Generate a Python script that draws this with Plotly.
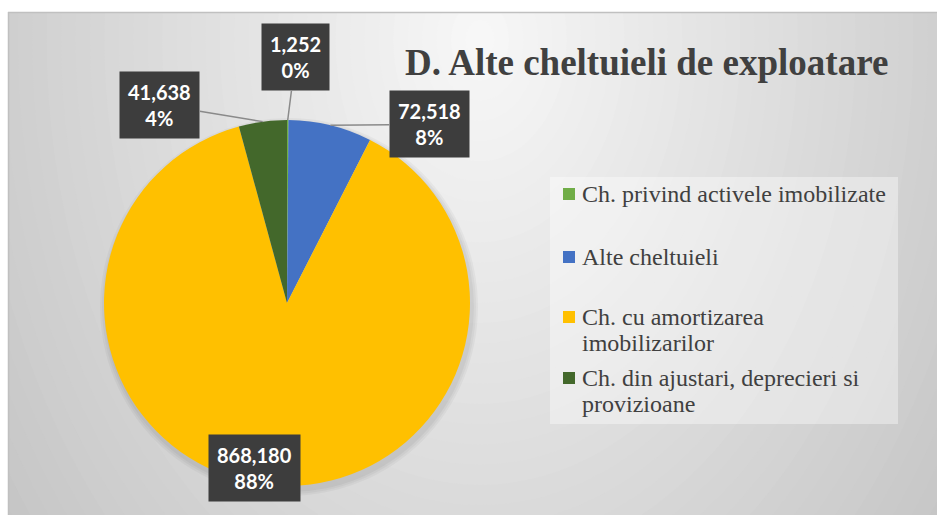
import math
import plotly.graph_objects as go

# ---- data ----
categories = [
    "Ch. privind activele imobilizate",
    "Alte cheltuieli",
    "Ch. cu amortizarea imobilizarilor",
    "Ch. din ajustari, deprecieri si provizioane",
]
values = [1252, 72518, 868180, 41638]
pct_labels = ["0%", "8%", "88%", "4%"]
legend_lines = [
    ["Ch. privind activele imobilizate"],
    ["Alte cheltuieli"],
    ["Ch. cu amortizarea", "imobilizarilor"],
    ["Ch. din ajustari, deprecieri si", "provizioane"],
]
colors = ["#70AD47", "#4472C4", "#FFC000", "#43682B"]
title = "D. Alte cheltuieli de exploatare"

# ---- layout constants (pixels) ----
W, H = 937, 515
CX, CY, R = 287, 303, 183


def px(x):
    return x / W


def py(y):
    return 1 - y / H


fig = go.Figure()
fig.add_trace(go.Pie(
    labels=categories,
    values=values,
    sort=False,
    direction="clockwise",
    rotation=0,
    textinfo="none",
    hoverinfo="label+value+percent",
    marker=dict(colors=colors, line=dict(width=0)),
    domain=dict(x=[px(CX - R), px(CX + R)], y=[py(CY + R), py(CY - R)]),
    showlegend=False,
))

shapes = []
# radial gradient background
rx, ry = 500, 700
gx, gy = 480, 40
N = 45
for k in range(N, -1, -1):
    d = 1.3 * k / N
    c = int(round(248 - 43 * d))
    c = max(0, min(255, c))
    shapes.append(dict(
        type="circle", xref="paper", yref="paper", layer="below",
        x0=px(gx - rx * d), x1=px(gx + rx * d),
        y0=py(gy + ry * d), y1=py(gy - ry * d),
        fillcolor=f"rgb({c},{c},{c})", line=dict(width=0),
    ))
# white strips outside the chart area
shapes.append(dict(type="rect", xref="paper", yref="paper", layer="below",
                   x0=-0.01, x1=1.01, y0=py(12), y1=1.01,
                   fillcolor="white", line=dict(width=0)))
shapes.append(dict(type="rect", xref="paper", yref="paper", layer="below",
                   x0=-0.01, x1=px(8), y0=-0.01, y1=1.01,
                   fillcolor="white", line=dict(width=0)))
# chart border
shapes.append(dict(type="line", xref="paper", yref="paper", layer="below",
                   x0=px(8), x1=1.01, y0=py(12.5), y1=py(12.5),
                   line=dict(color="#c0c0c0", width=1.5)))
shapes.append(dict(type="line", xref="paper", yref="paper", layer="below",
                   x0=px(8.5), x1=px(8.5), y0=-0.01, y1=py(12),
                   line=dict(color="#c0c0c0", width=1.5)))
# soft pie shadow
for i, a in enumerate([0.035, 0.035, 0.04]):
    e = 6 - 2 * i
    shapes.append(dict(type="circle", xref="paper", yref="paper", layer="below",
                       x0=px(CX - R - e + 2), x1=px(CX + R + e + 2),
                       y0=py(CY + R + e + 4), y1=py(CY - R - e + 4),
                       fillcolor=f"rgba(0,0,0,{a})", line=dict(width=0)))
# legend box
shapes.append(dict(type="rect", xref="paper", yref="paper", layer="below",
                   x0=px(550), x1=px(898), y0=py(424), y1=py(177),
                   fillcolor="rgba(255,255,255,0.38)", line=dict(width=0)))

annotations = []
# title
annotations.append(dict(
    x=px(646), y=py(63), xref="paper", yref="paper", showarrow=False,
    text=f"<b>{title}</b>", xanchor="center", yanchor="middle",
    font=dict(family="Liberation Serif", size=37, color="#404040"),
))

# manual legend
legend_y = [194, 257, 317, 378]
for i, lines in enumerate(legend_lines):
    yc = legend_y[i]
    shapes.append(dict(type="rect", xref="paper", yref="paper",
                       x0=px(563), x1=px(575), y0=py(yc + 6), y1=py(yc - 6),
                       fillcolor=colors[i], line=dict(width=0)))
    for j, ln in enumerate(lines):
        annotations.append(dict(
            x=px(580), y=py(yc + 25.5 * j), xref="paper", yref="paper",
            showarrow=False, text=ln, xanchor="left", yanchor="middle",
            font=dict(family="Liberation Serif", size=24, color="#404040"),
        ))

# data labels positioned relative to each slice's mid-angle on the rim
total = sum(values)
label_offsets = [(8, -63, True), (99, -1, True), (-14, -17, False), (-103, -17, True)]
cum = 0
for i, v in enumerate(values):
    mid = (cum + v / 2) / total * 2 * math.pi
    cum += v
    ax_px = CX + R * math.sin(mid)
    ay_px = CY - R * math.cos(mid)
    dx, dy, leader = label_offsets[i]
    txt = f"<b>{v:,}<br>{pct_labels[i]}</b>"
    common = dict(
        xref="paper", yref="paper", text=txt,
        font=dict(family="Lato", size=20, color="white"),
        bgcolor="#3d3d3d", borderpad=8, align="center",
    )
    if leader:
        annotations.append(dict(
            x=px(ax_px), y=py(ay_px), showarrow=True, ax=dx, ay=dy,
            arrowhead=0, arrowwidth=1.5, arrowcolor="#8a8a8a", standoff=0,
            **common,
        ))
    else:
        annotations.append(dict(
            x=px(ax_px), y=py(ay_px), showarrow=False,
            xshift=dx, yshift=-dy, xanchor="center", yanchor="middle",
            **common,
        ))

fig.update_layout(
    width=W, height=H, autosize=False,
    margin=dict(l=0, r=0, t=0, b=0),
    paper_bgcolor="white", plot_bgcolor="white",
    shapes=shapes, annotations=annotations,
    showlegend=False,
)

fig.write_html(
    "out.html",
    config={"displayModeBar": False},
    post_script=(
        "document.body.style.margin='0';"
        "document.body.style.overflow='hidden';"
        "document.documentElement.style.overflow='hidden';"
    ),
)
